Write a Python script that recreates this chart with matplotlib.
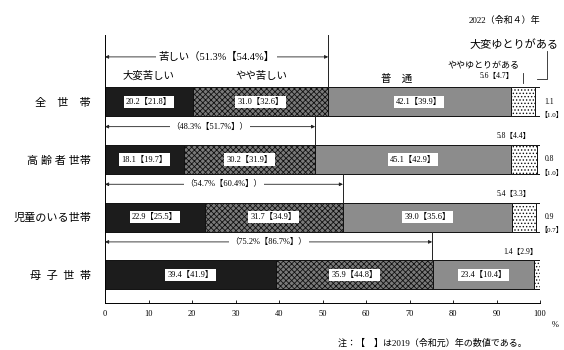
import matplotlib
matplotlib.use("Agg")
import numpy as np
import matplotlib.pyplot as plt

plt.rcParams["font.family"] = ["Liberation Serif", "Noto Sans CJK JP"]
plt.rcParams["hatch.linewidth"] = 0.6

groups = ["全　世　帯", "高 齢 者 世帯", "児童のいる世帯", "母  子  世  帯"]
very_hard = [20.2, 18.1, 22.9, 39.4]
very_hard_2019 = [21.8, 19.7, 25.5, 41.9]
hard = [31.0, 30.2, 31.7, 35.9]
hard_2019 = [32.6, 31.9, 34.9, 44.8]
normal = [42.1, 45.1, 39.0, 23.4]
normal_2019 = [39.9, 42.9, 35.6, 10.4]
some_room = [5.6, 5.8, 5.4, 1.4]
some_room_2019 = [4.7, 4.4, 3.3, 2.9]
lots_room = [1.1, 0.8, 0.9, 0.0]
lots_room_2019 = [1.0, 1.0, 0.7, None]
hard_total = [51.3, 48.3, 54.7, 75.2]
hard_total_2019 = [54.4, 51.7, 60.4, 86.7]
xticks = list(range(0, 101, 10))

fig = plt.figure(figsize=(5.64, 3.5), dpi=100)
ax = fig.add_axes([105 / 564, 1 - 303 / 350, 435 / 564, 268 / 350])

y = np.arange(len(groups))
bh = 0.5
series = [
    (very_hard, very_hard_2019, dict(color="#1c1c1c")),
    (hard, hard_2019, dict(color="#7a7a7a", hatch="xxxxxx")),
    (normal, normal_2019, dict(color="#8c8c8c")),
    (some_room, some_room_2019, dict(color="white", hatch=".....")),
    (lots_room, lots_room_2019, dict(color="white")),
]
left = np.zeros(len(groups))
for k, (vals, old, style) in enumerate(series):
    vals = np.array(vals)
    ax.barh(y, vals, left=left, height=bh, edgecolor="#111111", linewidth=0.7, **style)
    if k < 3:
        for i in range(len(groups)):
            ax.text(left[i] + vals[i] / 2, y[i], f"{vals[i]:.1f}【{old[i]:.1f}】",
                    ha="center", va="center", fontsize=6,
                    bbox=dict(boxstyle="square,pad=0.25", fc="white", ec="none"))
    left += vals

# labels above/right of the small segments
some_x = [90, 94, 94, 95.5]
for i in range(len(groups)):
    ax.text(some_x[i], y[i] - (0.45 if i == 0 else 0.4),
            f"{some_room[i]:.1f}【{some_room_2019[i]:.1f}】",
            ha="center", va="center", fontsize=5.5)
    if lots_room_2019[i] is not None:
        ax.text(101.0, y[i], f"{lots_room[i]:.1f}", ha="left", va="center", fontsize=5.5)
        ax.text(100.1, y[i] + 0.22, f"【{lots_room_2019[i]:.1f}】", ha="left",
                va="center", fontsize=5)

# 苦しい brackets
for i in range(len(groups)):
    ay = -0.78 if i == 0 else y[i] - 0.57
    ax.annotate("", xy=(0, ay), xytext=(hard_total[i], ay),
                arrowprops=dict(arrowstyle="<|-|>", lw=0.6, color="#222222",
                                mutation_scale=5, shrinkA=0, shrinkB=0),
                annotation_clip=False)
    if i == 0:
        txt = f"苦しい（{hard_total[i]}%【{hard_total_2019[i]}%】"
        fs = 7.5
    else:
        txt = f"（{hard_total[i]}%【{hard_total_2019[i]}%】）"
        fs = 6
    ax.text(hard_total[i] / 2, ay, txt, ha="center", va="center", fontsize=fs,
            bbox=dict(boxstyle="square,pad=0.2", fc="white", ec="none"))
    top = -1.16 if i == 0 else y[i - 1] + bh / 2
    ax.plot([hard_total[i]] * 2, [top, y[i] - bh / 2], color="#222222", lw=0.7)

# category headers
ax.text(10, -0.45, "大変苦しい", ha="center", va="center", fontsize=7.5)
ax.text(36, -0.45, "やや苦しい", ha="center", va="center", fontsize=7.5)
ax.text(67, -0.4, "普　通", ha="center", va="center", fontsize=7.5)
ax.text(87, -0.62, "ややゆとりがある", ha="center", va="center", fontsize=6.5)
ax.text(94, -1.0, "大変ゆとりがある", ha="center", va="center", fontsize=8)
ax.plot([96.1, 96.1], [-0.5, -0.32], color="#222222", lw=0.6)
ax.plot([101.6, 101.6, 99.4], [-0.88, -0.4, -0.4], color="#222222", lw=0.6, clip_on=False)

ax.set_xlim(0, 100)
ax.set_ylim(3.49, -1.16)
ax.set_xticks(xticks)
ax.set_xticklabels([str(t) for t in xticks], fontsize=6)
ax.tick_params(axis="x", direction="in", length=2, width=0.6, pad=5)
ax.set_yticks(y)
ax.set_yticklabels(groups, fontsize=8)
ax.tick_params(axis="y", length=0, pad=10)
for s in ["top", "right"]:
    ax.spines[s].set_visible(False)
ax.spines["left"].set_linewidth(0.7)
ax.spines["bottom"].set_linewidth(0.7)

fig.text(555 / 564, 1 - 325 / 350, "%", ha="center", va="center", fontsize=6)
fig.text(540 / 564, 1 - 20 / 350, "2022（令和４）年", ha="right", va="center", fontsize=6.5)
fig.text(527 / 564, 1 - 343 / 350, "注：【　】は2019（令和元）年の数値である。",
         ha="right", va="center", fontsize=6.5)

fig.savefig("out.png", dpi=100)
